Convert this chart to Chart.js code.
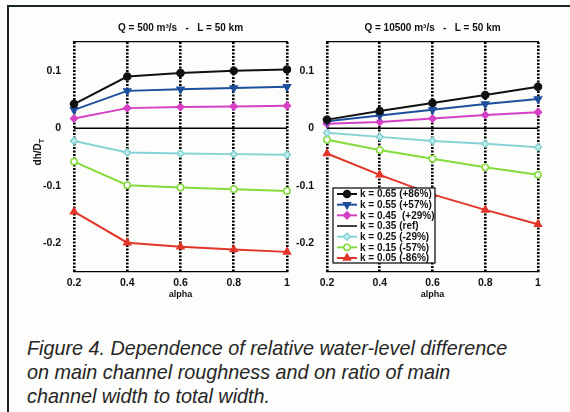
<!DOCTYPE html>
<html><head><meta charset="utf-8">
<script src="https://cdn.jsdelivr.net/npm/chart.js@4.4.0/dist/chart.umd.min.js"></script>
<style>
html,body{margin:0;padding:0;width:570px;height:412px;overflow:hidden;background:#fdfdfb;}
#frame{position:absolute;left:7px;top:5px;width:580px;height:420px;border-left:2px solid #1c2620;border-top:2px solid #1c2620;}
#c1{position:absolute;left:0;top:0;}
#c2{position:absolute;left:253px;top:0;}
#caption{position:absolute;left:27px;top:336px;font:italic 19.8px "Liberation Sans",Arial,sans-serif;line-height:24px;color:#262626;white-space:nowrap;}
</style></head>
<body>
<div id="frame"></div>
<canvas id="c1" width="295" height="300"></canvas>
<canvas id="c2" width="293" height="300"></canvas>
<div id="caption">Figure 4. Dependence of relative water-level difference<br>on main channel roughness and on ratio of main<br>channel width to total width.</div>
<script>
// ---- data ----
const alpha = [0.2, 0.4, 0.6, 0.8, 1];
const yTicks = [-0.2, -0.1, 0, 0.1];
const seriesLabels = ["k = 0.65 (+86%)", "k = 0.55 (+57%)", "k = 0.45  (+29%)", "k = 0.35 (ref)", "k = 0.25 (-29%)", "k = 0.15 (-57%)", "k = 0.05 (-86%)"];
const titleLeft = "Q = 500 m\u00b3/s   -   L = 50 km";
const titleRight = "Q = 10500 m\u00b3/s   -   L = 50 km";

// Q = 500 m3/s
const q500_k065 = [0.042, 0.090, 0.096, 0.100, 0.102];
const q500_k055 = [0.032, 0.065, 0.068, 0.070, 0.072];
const q500_k045 = [0.017, 0.035, 0.037, 0.038, 0.039];
const q500_k035 = [0, 0, 0, 0, 0];
const q500_k025 = [-0.022, -0.042, -0.044, -0.045, -0.046];
const q500_k015 = [-0.058, -0.099, -0.103, -0.106, -0.109];
const q500_k005 = [-0.145, -0.199, -0.206, -0.211, -0.215];

// Q = 10500 m3/s
const q10500_k065 = [0.015, 0.030, 0.044, 0.058, 0.072];
const q10500_k055 = [0.012, 0.022, 0.032, 0.042, 0.051];
const q10500_k045 = [0.008, 0.011, 0.017, 0.023, 0.028];
const q10500_k035 = [0, 0, 0, 0, 0];
const q10500_k025 = [-0.008, -0.015, -0.022, -0.027, -0.033];
const q10500_k015 = [-0.020, -0.038, -0.053, -0.068, -0.081];
const q10500_k005 = [-0.044, -0.081, -0.115, -0.142, -0.167];

// ---- styles ----
const styles = [
  {color:'#111111', fill:'#111111', point:'circle', radius:3.5, rot:0},
  {color:'#1d4f9c', fill:'#1d4f9c', point:'triangle', radius:4, rot:180},
  {color:'#d640c4', fill:'#d640c4', point:'rectRot', radius:3.5, rot:0},
  {color:'#000000', fill:'#000000', point:false, radius:0, rot:0},
  {color:'#86d3d3', fill:'#c4eeee', point:'rectRot', radius:3.5, rot:0},
  {color:'#84dc3c', fill:'#fdfdfb', point:'circle', radius:3.2, rot:0},
  {color:'#e2352a', fill:'#e2352a', point:'triangle', radius:4, rot:0}
];

function makeDatasets(list){
  return list.map((arr, i) => {
    const s = styles[i];
    return {
      label: seriesLabels[i],
      data: alpha.map((a, j) => ({x:a, y:arr[j]})),
      borderColor: s.color,
      backgroundColor: s.fill,
      borderWidth: i === 3 ? 1.5 : 2,
      pointStyle: s.point,
      pointRadius: s.radius,
      pointRotation: s.rot,
      pointBackgroundColor: s.fill,
      pointBorderColor: s.color,
      pointBorderWidth: 1.5,
      clip: false,
      tension: 0
    };
  });
}

const FONT = '"Liberation Sans", Arial, sans-serif';

const deco = {
  id: 'deco',
  afterDraw(chart, args, opts){
    const ctx = chart.ctx, ca = chart.chartArea;
    ctx.save();
    ctx.fillStyle = '#111';
    ctx.font = 'bold 10px ' + FONT;
    ctx.textAlign = 'center';
    ctx.textBaseline = 'middle';
    ctx.fillText(opts.title, (ca.left + ca.right) / 2, 28);
    if (opts.ylabel){
      ctx.save();
      ctx.translate(38, 152);
      ctx.rotate(-Math.PI / 2);
      ctx.font = 'bold 10px ' + FONT;
      const main = 'dh/D';
      const w1 = ctx.measureText(main).width;
      ctx.font = 'bold 7.5px ' + FONT;
      const w2 = ctx.measureText('T').width;
      const x0 = -(w1 + w2) / 2;
      ctx.textAlign = 'left';
      ctx.font = 'bold 10px ' + FONT;
      ctx.fillText(main, x0, 0);
      ctx.font = 'bold 7.5px ' + FONT;
      ctx.fillText('T', x0 + w1, 4);
      ctx.restore();
    }
    if (opts.legend){
      const bx = ca.left + 6, by = ca.bottom - 84, bw = 102, bh = 75;
      ctx.fillStyle = '#ffffff';
      ctx.fillRect(bx, by, bw, bh);
      ctx.strokeStyle = '#000';
      ctx.lineWidth = 1.2;
      ctx.strokeRect(bx, by, bw, bh);
      chart.data.datasets.forEach((ds, i) => {
        const cy = by + 6 + i * 10.67;
        ctx.strokeStyle = ds.borderColor;
        ctx.lineWidth = ds.borderWidth;
        ctx.beginPath();
        ctx.moveTo(bx + 4, cy);
        ctx.lineTo(bx + 24, cy);
        ctx.stroke();
        if (ds.pointStyle){
          ctx.fillStyle = ds.pointBackgroundColor;
          ctx.strokeStyle = ds.pointBorderColor;
          ctx.lineWidth = ds.pointBorderWidth;
          Chart.helpers.drawPoint(ctx, {pointStyle: ds.pointStyle, radius: ds.pointRadius, rotation: ds.pointRotation, borderWidth: ds.pointBorderWidth}, bx + 14, cy);
        }
        ctx.fillStyle = '#111';
        ctx.font = 'bold 10px ' + FONT;
        ctx.textAlign = 'left';
        ctx.textBaseline = 'middle';
        ctx.fillText(ds.label, bx + 27, cy + 0.5);
      });
    }
    ctx.restore();
  }
};

function makeChart(id, list, title, ylabel, legend){
  return new Chart(document.getElementById(id), {
    type: 'line',
    data: { datasets: makeDatasets(list) },
    plugins: [deco],
    options: {
      responsive: false,
      animation: false,
      layout: { padding: {left: 10, right: 8, top: 42, bottom: 0} },
      plugins: {
        legend: {display: false},
        tooltip: {enabled: false},
        deco: {title: title, ylabel: ylabel, legend: legend}
      },
      scales: {
        x: {
          type: 'linear', min: 0.2, max: 1,
          afterBuildTicks: s => { s.ticks = alpha.map(v => ({value: v})); },
          afterFit: s => { s.height = 28; },
          grid: {color: '#000', lineWidth: 2.6, drawTicks: false},
          border: {display: true, color: '#000', width: 1.2, dash: [2, 1.5]},
          ticks: {color: '#111', font: {family: FONT, size: 10.5, weight: 'bold'}, padding: 5, maxRotation: 0, callback: v => String(v)},
          title: {display: true, text: 'alpha', color: '#111', font: {family: FONT, size: 9, weight: 'bold'}, padding: {top: 0, bottom: 0}}
        },
        x2: {
          type: 'linear', position: 'top', min: 0.2, max: 1,
          afterFit: s => { s.height = 0; },
          grid: {display: false},
          ticks: {display: false},
          border: {display: true, color: '#000', width: 1.2}
        },
        y: {
          type: 'linear', min: -0.25, max: 0.15,
          afterBuildTicks: s => { s.ticks = yTicks.map(v => ({value: v})); },
          afterFit: s => { s.width = 64; },
          grid: {display: false},
          border: {display: false},
          ticks: {color: '#111', font: {family: FONT, size: 10.5, weight: 'bold'}, padding: 5, callback: v => String(v)}
        }
      }
    }
  });
}

makeChart('c1', [q500_k065, q500_k055, q500_k045, q500_k035, q500_k025, q500_k015, q500_k005], titleLeft, true, false);
makeChart('c2', [q10500_k065, q10500_k055, q10500_k045, q10500_k035, q10500_k025, q10500_k015, q10500_k005], titleRight, false, true);
</script>
</body></html>
